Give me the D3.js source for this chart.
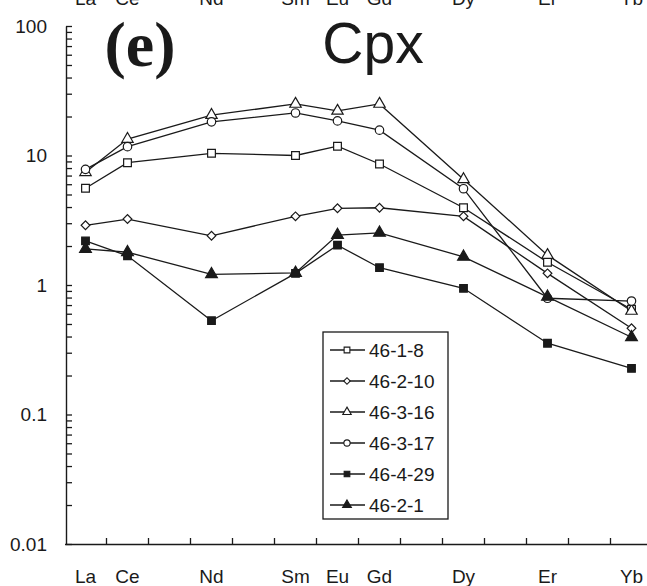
<!DOCTYPE html>
<html>
<head>
<meta charset="utf-8">
<script src="https://cdn.jsdelivr.net/npm/d3@7/dist/d3.min.js"></script>
<style>
  html, body { margin: 0; padding: 0; background: #fff; }
  svg { display: block; }
  text { font-family: "Liberation Sans", Arial, sans-serif; fill: #1a1a1a; }
</style>
</head>
<body>
<svg id="chart" width="647" height="586"></svg>
<script>
// Chondrite-normalised REE patterns of clinopyroxene
const elements = ["La","Ce","Pr","Nd","Pm","Sm","Eu","Gd","Tb","Dy","Ho","Er","Tm","Yb"];
const measured = ["La","Ce","Nd","Sm","Eu","Gd","Dy","Er","Yb"];
const yTickLabels = [100, 10, 1, 0.1, 0.01];

const s46_1_8  = [5.58, 8.8, 10.4, 10.0, 11.8, 8.6, 3.95, 1.50, 0.65];
const s46_2_10 = [2.89, 3.23, 2.40, 3.39, 3.91, 3.95, 3.39, 1.23, 0.463];
const s46_3_16 = [7.42, 13.4, 20.5, 25.0, 22.1, 25.0, 6.55, 1.70, 0.63];
const s46_3_17 = [7.82, 11.7, 18.2, 21.3, 18.5, 15.7, 5.54, 0.79, 0.752];
const s46_4_29 = [2.19, 1.68, 0.53, 1.23, 2.03, 1.36, 0.943, 0.355, 0.227];
const s46_2_1  = [1.90, 1.79, 1.21, 1.24, 2.43, 2.53, 1.65, 0.81, 0.395];

const seriesNames = ["46-1-8", "46-2-10", "46-3-16", "46-3-17", "46-4-29", "46-2-1"];
const seriesValues = [s46_1_8, s46_2_10, s46_3_16, s46_3_17, s46_4_29, s46_2_1];

const ink = "#1a1a1a";
const styles = [
  { type: d3.symbolSquare,   size: 60, fill: "#fff", rot: 0 },
  { type: d3.symbolSquare,   size: 38, fill: "#fff", rot: 45 },
  { type: d3.symbolTriangle, size: 56, fill: "#fff", rot: 0 },
  { type: d3.symbolCircle,   size: 56, fill: "#fff", rot: 0 },
  { type: d3.symbolSquare,   size: 58, fill: ink,    rot: 0 },
  { type: d3.symbolTriangle, size: 60, fill: ink,    rot: 0 }
];

const svg = d3.select("#chart");

const x = d3.scaleBand().domain(elements).range([64.5, 652.5]).paddingInner(0).paddingOuter(0);
const y = d3.scaleLog().domain([0.01, 100]).range([544, 26]);
const cx = d => x(d) + x.bandwidth() / 2;

// Y axis: every 1..9 step per decade, ticks pointing inward
const yTicks = [];
for (let e = -2; e < 2; e++) {
  for (let m = 1; m < 10; m++) yTicks.push(m * Math.pow(10, e));
}
yTicks.push(100);

const yAxis = d3.axisLeft(y)
  .tickValues(yTicks)
  .tickSizeInner(-6)
  .tickSizeOuter(0)
  .tickPadding(19)
  .tickFormat(v => yTickLabels.some(t => Math.abs(t - v) / t < 1e-9) ? String(v) : "");

const gy = svg.append("g").attr("transform", "translate(66,0)").call(yAxis);
gy.select(".domain").attr("stroke", ink).attr("stroke-width", 1.4);
gy.selectAll(".tick line").attr("stroke", ink).attr("stroke-width", 1.3);
gy.selectAll(".tick text")
  .style("font-family", '"Liberation Sans", Arial, sans-serif')
  .style("font-size", "19px")
  .attr("fill", ink);

// X axis: category labels at band centres, tick marks at band boundaries
const xAxis = d3.axisBottom(x)
  .tickSize(0)
  .tickPadding(26)
  .tickFormat(d => measured.includes(d) ? d : "");
const gx = svg.append("g").attr("transform", "translate(0,544)").call(xAxis);
gx.select(".domain").attr("stroke", ink).attr("stroke-width", 1.4);
gx.selectAll(".tick text")
  .style("font-family", '"Liberation Sans", Arial, sans-serif')
  .style("font-size", "19px")
  .attr("fill", ink);

const boundaries = elements.slice(1).map(d => x(d)).concat([x(elements[elements.length - 1]) + x.bandwidth()]);
svg.append("g").selectAll("line").data(boundaries).join("line")
  .attr("x1", d => d).attr("x2", d => d)
  .attr("y1", 544).attr("y2", 538)
  .attr("stroke", ink).attr("stroke-width", 1.3);

// labels of the panel above, running off the top edge
svg.append("g").selectAll("text").data(measured).join("text")
  .attr("x", d => cx(d)).attr("y", 5)
  .attr("text-anchor", "middle")
  .style("font-size", "19px")
  .text(d => d);

// Series lines and markers
const line = d3.line().x((v, i) => cx(measured[i])).y(v => y(v));
const plot = svg.append("g");
seriesValues.forEach(vals => {
  plot.append("path").datum(vals)
    .attr("d", line)
    .attr("fill", "none")
    .attr("stroke", ink)
    .attr("stroke-width", 1.3);
});
seriesValues.forEach((vals, k) => {
  const st = styles[k];
  plot.append("g").selectAll("path").data(vals).join("path")
    .attr("d", d3.symbol().type(st.type).size(st.size))
    .attr("transform", (v, i) => `translate(${cx(measured[i])},${y(v)}) rotate(${st.rot})`)
    .attr("fill", st.fill)
    .attr("stroke", ink)
    .attr("stroke-width", 1.2);
});

// Panel titles
svg.append("text").attr("x", 140).attr("y", 66)
  .attr("text-anchor", "middle")
  .style("font-family", '"Liberation Serif", "Times New Roman", serif')
  .style("font-weight", "bold")
  .style("font-size", "64px")
  .text("(e)");
svg.append("text").attr("x", 373).attr("y", 63)
  .attr("text-anchor", "middle")
  .style("font-size", "57px")
  .text("Cpx");

// Legend
const legend = svg.append("g");
legend.append("rect")
  .attr("x", 323).attr("y", 332).attr("width", 125).attr("height", 187)
  .attr("fill", "#fff").attr("stroke", ink).attr("stroke-width", 1.3);
seriesNames.forEach((name, k) => {
  const ly = 350 + k * 31;
  const st = styles[k];
  legend.append("line")
    .attr("x1", 330).attr("x2", 365).attr("y1", ly).attr("y2", ly)
    .attr("stroke", ink).attr("stroke-width", 1.3);
  legend.append("path")
    .attr("d", d3.symbol().type(st.type).size(st.size * 0.55))
    .attr("transform", `translate(347,${ly}) rotate(${st.rot})`)
    .attr("fill", st.fill).attr("stroke", ink).attr("stroke-width", 1.1);
  legend.append("text")
    .attr("x", 369).attr("y", ly).attr("dy", "0.36em")
    .style("font-size", "19px")
    .text(name);
});
</script>
</body>
</html>
